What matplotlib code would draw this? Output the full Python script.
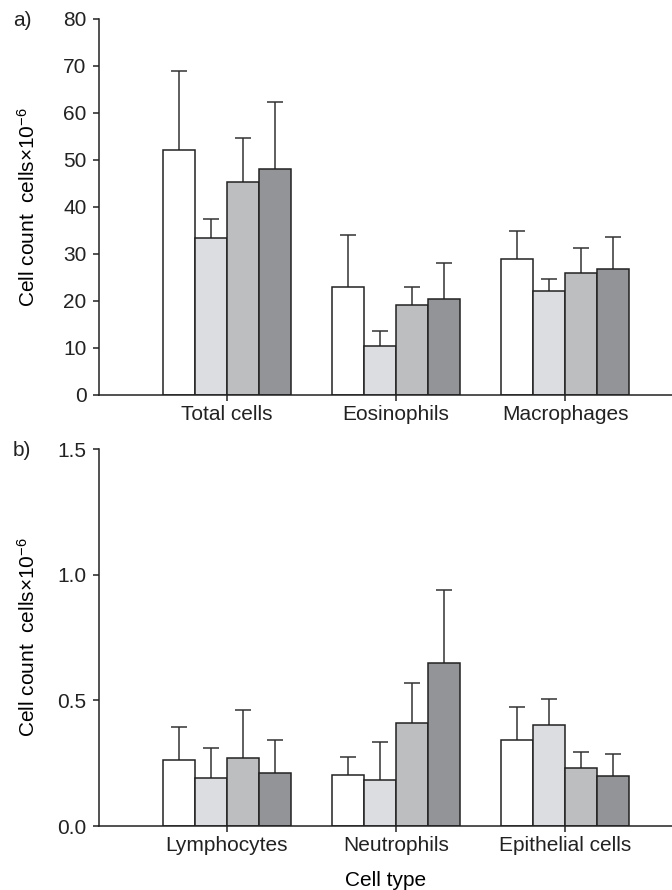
import numpy as np
import matplotlib
matplotlib.use("Agg")
import matplotlib.pyplot as plt

plt.rcParams["font.family"] = ["Liberation Sans", "DejaVu Sans"]
plt.rcParams["mathtext.fontset"] = "custom"
plt.rcParams["mathtext.rm"] = "Liberation Sans"
plt.rcParams["mathtext.it"] = "Liberation Sans"
plt.rcParams["text.color"] = "#222222"

FS = 15

# Panel a) major cell populations
cats_a = ["Total cells", "Eosinophils", "Macrophages"]
means_a = [
    [52.2, 23.0, 28.9],
    [33.4, 10.5, 22.2],
    [45.3, 19.1, 26.0],
    [48.1, 20.4, 26.7],
]
sem_a = [
    [16.7, 11.0, 6.0],
    [4.1, 3.2, 2.4],
    [9.3, 3.8, 5.3],
    [14.2, 7.6, 6.9],
]

# Panel b) minor cell populations
cats_b = ["Lymphocytes", "Neutrophils", "Epithelial cells"]
means_b = [
    [0.264, 0.203, 0.343],
    [0.190, 0.184, 0.401],
    [0.272, 0.408, 0.232],
    [0.210, 0.647, 0.198],
]
sem_b = [
    [0.128, 0.072, 0.132],
    [0.120, 0.152, 0.106],
    [0.190, 0.162, 0.064],
    [0.133, 0.293, 0.089],
]

colors = ["#ffffff", "#dcdde0", "#bdbec0", "#939498"]
edge = "#222222"
width = 0.19


def draw_panel(ax, cats, means, sems, ymax, yticks, ticklabels):
    x = np.arange(len(cats))
    for i, (m, s) in enumerate(zip(means, sems)):
        pos = x + (i - 1.5) * width
        m = np.asarray(m)
        s = np.asarray(s)
        ax.bar(pos, m, width=width, color=colors[i], edgecolor=edge,
               linewidth=1.1, zorder=3)
        eb = ax.errorbar(pos, m, yerr=[np.zeros_like(s), s], fmt="none",
                         ecolor="#333333", elinewidth=1.1, capsize=5.5,
                         capthick=1.1, zorder=2)
        for cl in eb[1]:
            if np.allclose(cl.get_ydata(), m):
                cl.set_visible(False)
    ax.set_xlim(-0.757, 2.633)
    ax.set_ylim(0, ymax)
    ax.set_xticks(x)
    ax.set_xticklabels(cats, fontsize=FS)
    ax.set_yticks(yticks)
    ax.set_yticklabels(ticklabels, fontsize=FS)
    for side in ("top", "right"):
        ax.spines[side].set_visible(False)
    for side in ("left", "bottom"):
        ax.spines[side].set_linewidth(1.1)
        ax.spines[side].set_color("#222222")
        ax.spines[side].set_zorder(4)
    ax.tick_params(axis="y", direction="out", length=4.5, width=1.1,
                   pad=4.5, colors="#222222")
    ax.tick_params(axis="x", direction="out", length=4.0, width=1.1,
                   pad=3, colors="#222222")
    ax.set_ylabel("Cell count  cells×10$^{-6}$", fontsize=FS)
    ax.yaxis.set_label_coords(-0.105, 0.5)


fig = plt.figure(figsize=(6.72, 8.90), dpi=100)
ax_a = fig.add_axes([0.1473, 0.5562, 0.8527, 0.4225])
ax_b = fig.add_axes([0.1473, 0.0719, 0.8527, 0.4236])

draw_panel(ax_a, cats_a, means_a, sem_a, 80,
           [0, 10, 20, 30, 40, 50, 60, 70, 80],
           ["0", "10", "20", "30", "40", "50", "60", "70", "80"])
draw_panel(ax_b, cats_b, means_b, sem_b, 1.5,
           [0.0, 0.5, 1.0, 1.5], ["0.0", "0.5", "1.0", "1.5"])

ax_b.set_xlabel("Cell type", fontsize=FS)
ax_b.xaxis.set_label_coords(0.5, -0.12)

fig.text(0.019, 1 - 21 / 890, "a)", fontsize=FS, va="center", ha="left")
fig.text(0.019, 1 - 451 / 890, "b)", fontsize=FS, va="center", ha="left")

fig.savefig("out.png", dpi=100)
